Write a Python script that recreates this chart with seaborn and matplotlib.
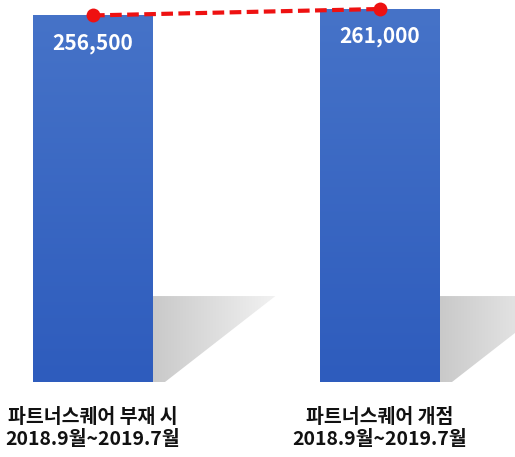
import numpy as np
import pandas as pd
import matplotlib
matplotlib.use("Agg")
import matplotlib.pyplot as plt
import seaborn as sns
from matplotlib.colors import LinearSegmentedColormap

categories = ["파트너스퀘어 부재 시\n2018.9월~2019.7월", "파트너스퀘어 개점\n2018.9월~2019.7월"]
values = [256500, 261000]
value_labels = ["256,500", "261,000"]

sns.set_theme(style="white")
plt.rcParams['font.family'] = ['Noto Sans CJK KR', 'DejaVu Sans']

df = pd.DataFrame({"cat": categories, "val": values, "pos": [0, 1]})

fig = plt.figure(figsize=(5.15, 4.57), dpi=100)
ax = fig.add_axes([0, 75 / 457, 1, 382 / 457])

unit = 287.0
sns.barplot(data=df, x="cat", y="val", ax=ax, color="#3a67c4", width=120 / unit,
            saturation=1, zorder=2)

ymax = max(values) * 382 / 373
ax.set_xlim(-93 / unit, (515 - 93) / unit)

blue = LinearSegmentedColormap.from_list("b", ["#4673c8", "#2e5cbd"])
gray = LinearSegmentedColormap.from_list("g", ["#c9c9c9", "#f2f2f2"])
for p in ax.patches:
    x0, w, h = p.get_x(), p.get_width(), p.get_height()
    p.set_facecolor("none")
    p.set_edgecolor("none")
    grad = np.linspace(0, 1, 256).reshape(-1, 1)
    im = ax.imshow(grad, cmap=blue, aspect="auto", extent=[x0, x0 + w, 0, h],
                   origin="upper", zorder=2, interpolation="bicubic")
    im.set_clip_path(p)
    # shadow
    sh = 0.225 * ymax
    sw = w * 1.02
    xr = x0 + w
    poly = plt.Polygon([(xr, 0), (xr, sh), (xr + sw, sh), (xr + w * 0.1, 0)],
                       closed=True, facecolor="none", edgecolor="none")
    ax.add_patch(poly)
    g2 = np.linspace(0, 1, 256).reshape(1, -1)
    im2 = ax.imshow(g2, cmap=gray, aspect="auto", extent=[xr, xr + sw, 0, sh],
                    zorder=1, interpolation="bicubic")
    im2.set_clip_path(poly)

ax.set_ylim(0, ymax)
ax.set_xlim(-93 / unit, (515 - 93) / unit)

sns.lineplot(data=df, x="pos", y="val", ax=ax, color="#ee1111", lw=3.0,
             linestyle=(0, (2.8, 1.3)), marker="o", markersize=10,
             markeredgewidth=0, zorder=5)

for i, (v, lab) in enumerate(zip(values, value_labels)):
    ax.annotate(lab, (i, v), xytext=(0, -20), textcoords="offset points",
                ha="center", va="center", color="white", fontsize=15,
                fontweight="bold", zorder=6)

ax.set_xlabel("")
ax.set_ylabel("")
ax.set_yticks([])
ax.set_xticks([0, 1])
ax.set_xticklabels(categories, fontsize=14, fontweight="bold", color="#111111",
                   linespacing=1.15)
ax.tick_params(axis="x", length=0, pad=19)
for s in ax.spines.values():
    s.set_visible(False)

fig.savefig("out.png", dpi=100)
